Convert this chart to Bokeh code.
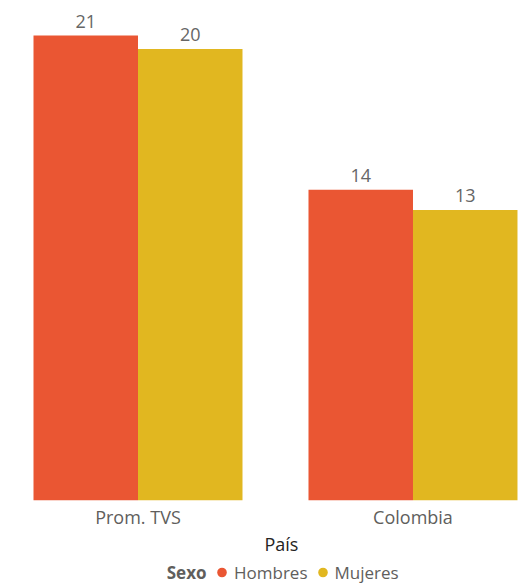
from bokeh.plotting import figure
from bokeh.layouts import column
from bokeh.models import (ColumnDataSource, Range1d, FixedTicker, LabelSet, Label,
                          Legend, LegendItem)
from bokeh.core.properties import value
from bokeh.transform import dodge
from bokeh.embed import file_html
from bokeh.resources import INLINE

# ---- data ----
paises = ["Prom. TVS", "Colombia"]
sexos = ["Hombres", "Mujeres"]
hombres = [20.8, 13.9]
mujeres = [20.2, 13.0]
colores = ["#EA5633", "#E1B720"]
eje_titulo = "País"
leyenda_titulo = "Sexo"

FONT = "Open Sans"
GRAY = "#605E5C"
FS = "18px"

p = figure(width=524, height=531, output_backend="svg", toolbar_location=None,
           x_range=Range1d(-0.5, 1.4055), y_range=Range1d(0, 22.37),
           y_axis_location=None, min_border_left=0, min_border_right=0,
           min_border_top=0, min_border_bottom=30)
p.outline_line_color = None
p.xgrid.visible = False
p.ygrid.visible = False

idx = list(range(len(paises)))
src = ColumnDataSource(dict(
    x=idx, h=hombres, m=mujeres,
    hl=[f"{v:.0f}" for v in hombres],
    ml=[f"{v:.0f}" for v in mujeres],
))

off = 0.19
bw = 0.38
p.vbar(x=dodge("x", -off), top="h", width=bw, source=src, color=colores[0], line_color=None)
p.vbar(x=dodge("x", off), top="m", width=bw, source=src, color=colores[1], line_color=None)

for col, lab, d in (("h", "hl", -off), ("m", "ml", off)):
    p.add_layout(LabelSet(x=dodge("x", d), y=col, text=lab, source=src,
                          text_align="center", text_baseline="alphabetic", y_offset=8,
                          text_font=value(FONT), text_font_size=FS,
                          text_color="#666666"))

ax = p.xaxis[0]
ax.ticker = FixedTicker(ticks=idx)
ax.major_label_overrides = {i: n for i, n in zip(idx, paises)}
ax.axis_line_color = None
ax.major_tick_line_color = None
ax.minor_tick_line_color = None
ax.major_tick_out = 0
ax.major_tick_in = 0
ax.major_label_standoff = 4
ax.major_label_text_font = FONT
ax.major_label_text_font_size = FS
ax.major_label_text_color = GRAY

# ---- axis title + legend row ----
lg = figure(width=524, height=53, output_backend="svg", toolbar_location=None,
            x_range=Range1d(0, 1), y_range=Range1d(0, 1),
            x_axis_location=None, y_axis_location=None,
            min_border_left=0, min_border_right=0, min_border_top=0, min_border_bottom=0)
lg.outline_line_color = None
lg.xgrid.visible = False
lg.ygrid.visible = False

lg.add_layout(Label(x=264, y=41, x_units="screen", y_units="screen", text=eje_titulo,
                    text_align="left", text_baseline="middle",
                    text_font=FONT, text_font_size=FS, text_color="#252423"))

nan = float("nan")
dummies = [lg.scatter(x=[nan], y=[nan], marker="circle", size=10, color=c, line_color=None)
           for c in colores]
legend = Legend(items=[LegendItem(label=s, renderers=[r], index=0)
                       for s, r in zip(sexos, dummies)],
                orientation="horizontal", location=(209, 0),
                glyph_width=25, glyph_height=24, label_standoff=-4, spacing=2,
                padding=0, margin=0, border_line_color=None, background_fill_alpha=0,
                label_text_font=FONT, label_text_font_size="17px", label_text_color=GRAY)
lg.add_layout(legend)
lg.add_layout(Label(x=206, y=12, x_units="screen", y_units="screen", text=leyenda_titulo,
                    text_align="right", text_baseline="middle", text_font_style="bold",
                    text_font=FONT, text_font_size="17px", text_color=GRAY))

layout = column(p, lg, spacing=0)
open("out.html", "w").write(file_html(layout, INLINE))
